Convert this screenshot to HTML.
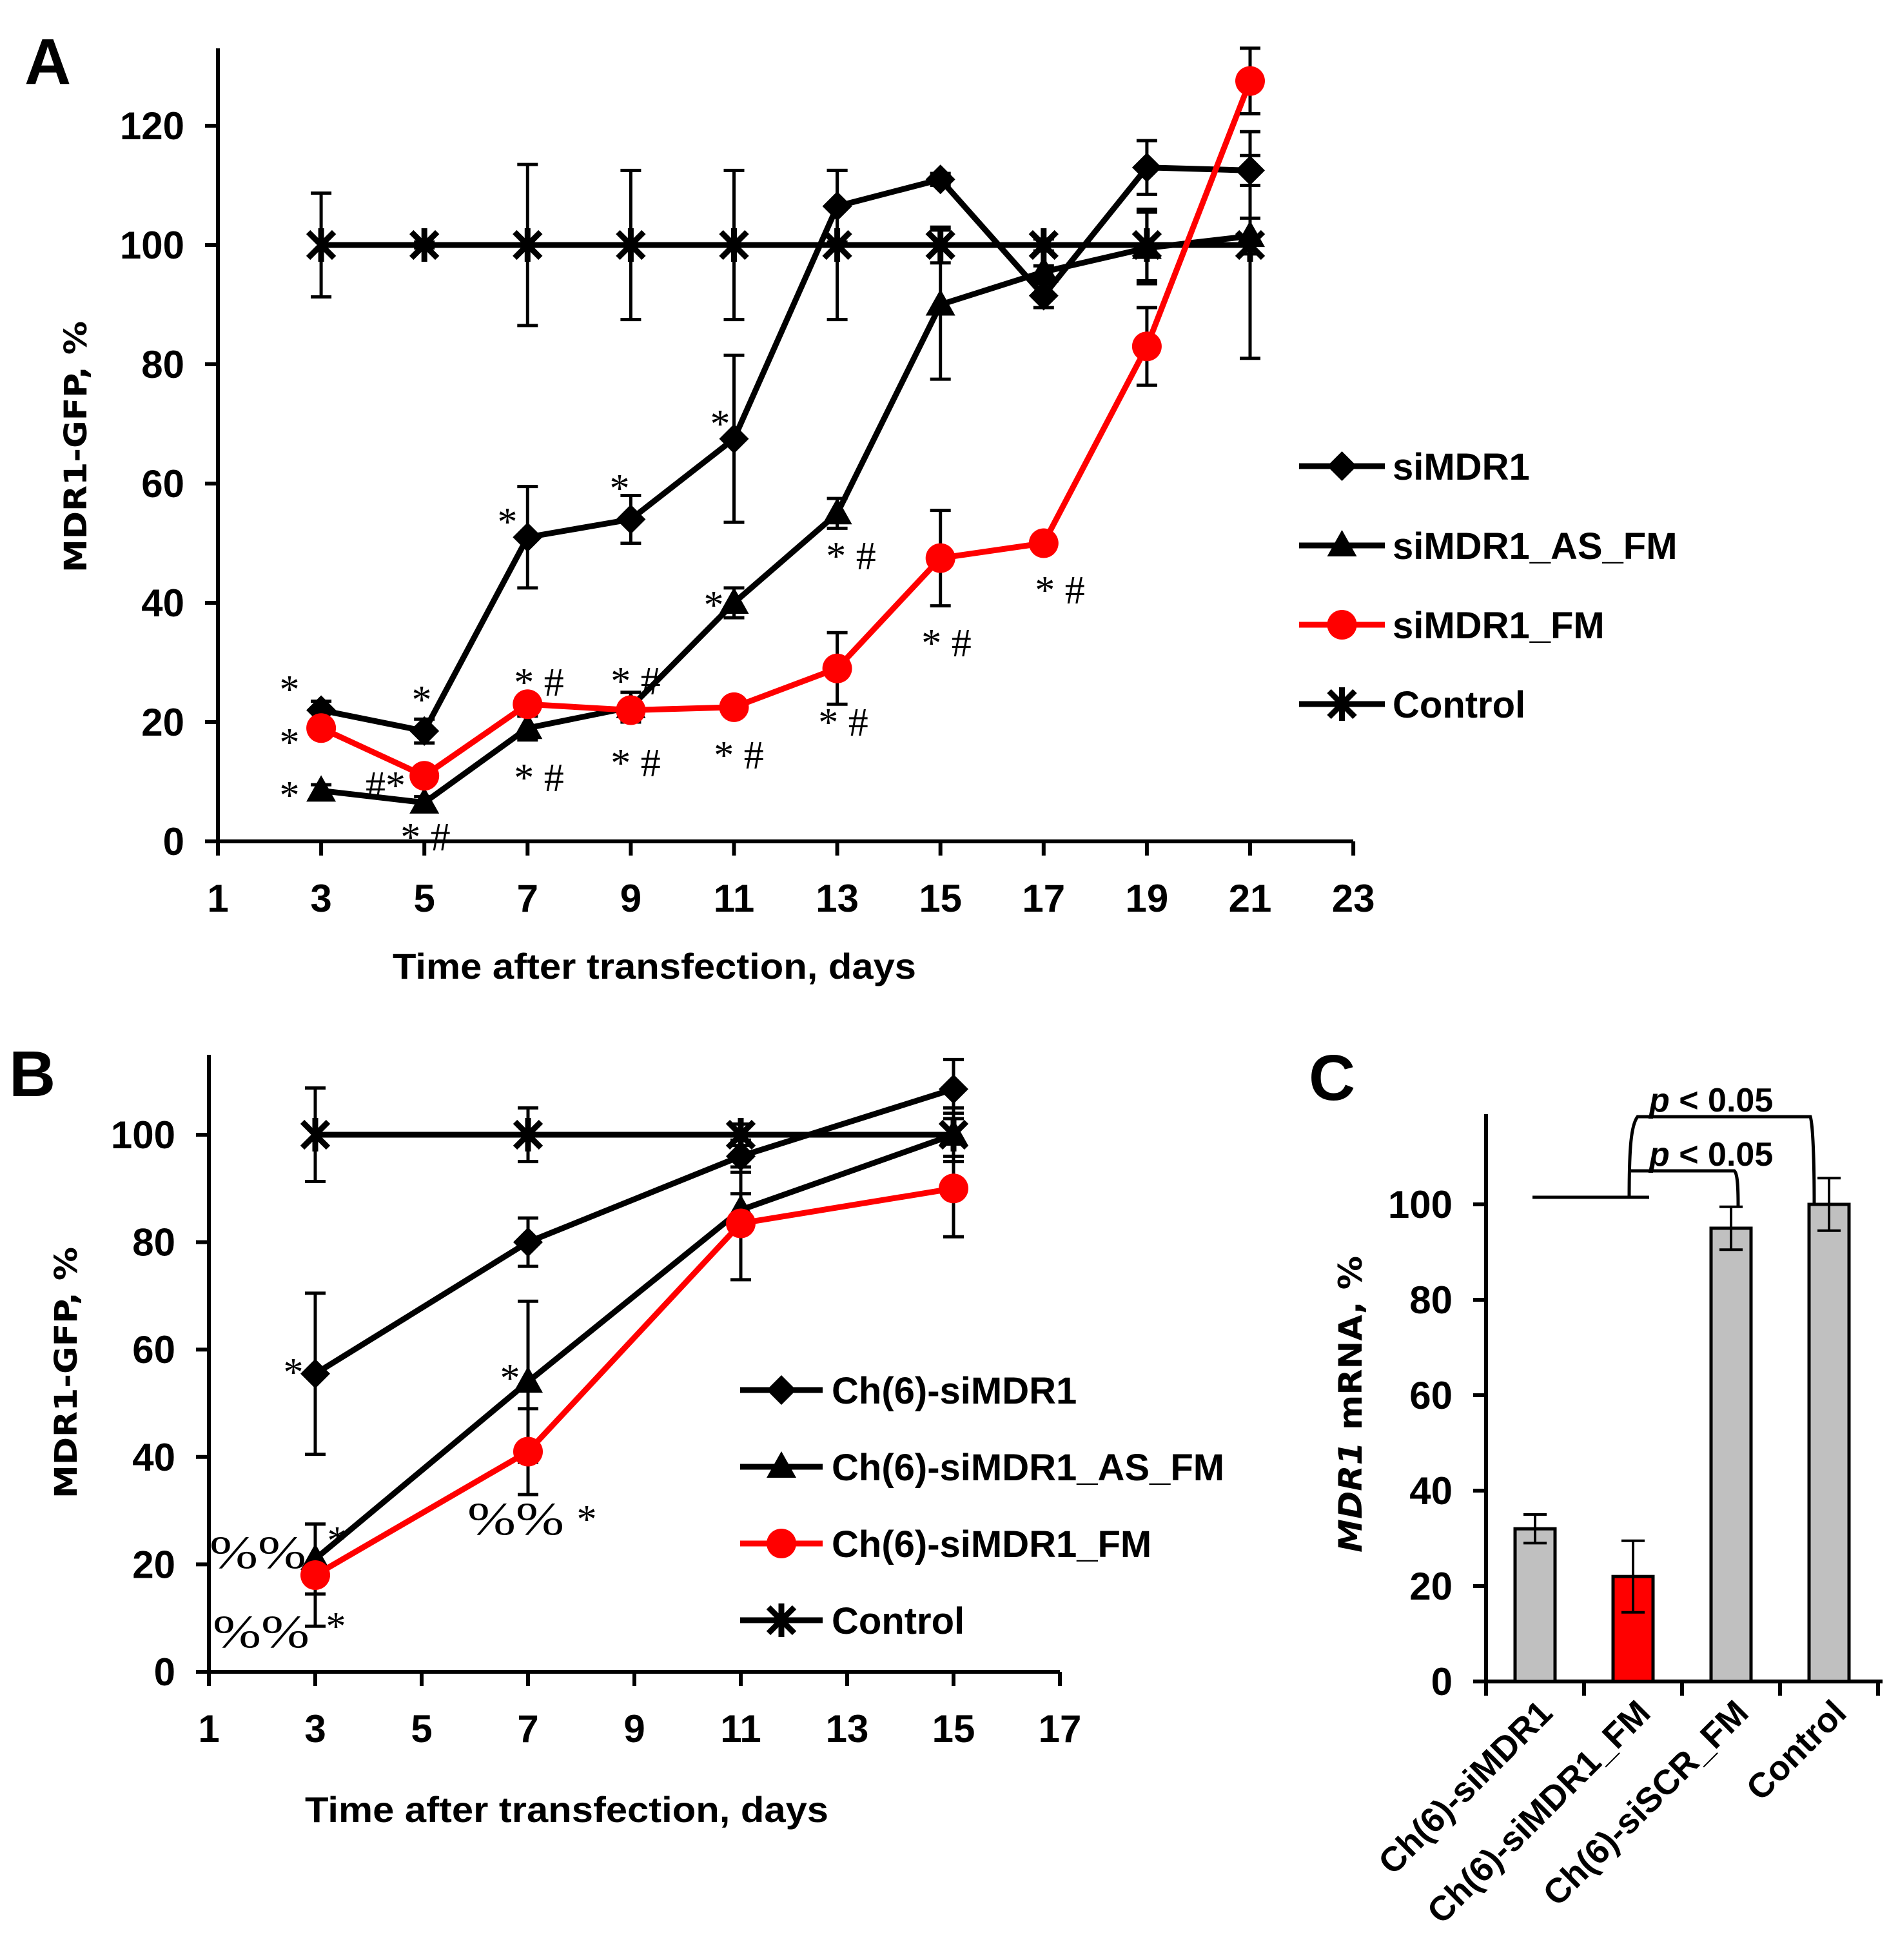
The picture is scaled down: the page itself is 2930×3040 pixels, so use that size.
<!DOCTYPE html>
<html><head><meta charset="utf-8"><style>
html,body{margin:0;padding:0;background:#fff;}
svg{display:block;}
text{font-family:"Liberation Sans",sans-serif;font-weight:bold;fill:#000;}
.ser{font-family:"Liberation Serif",serif;font-weight:normal;}
</style></head><body>
<svg id="fig" xmlns="http://www.w3.org/2000/svg" width="2930" height="3040" viewBox="0 0 2930 3040">
<rect width="2930" height="3040" fill="#fff"/>
<text x="38" y="130" font-size="100">A</text>
<text x="14" y="1700" font-size="100">B</text>
<text x="2030" y="1706" font-size="100">C</text>
<text x="1015" y="1518" font-size="56" text-anchor="middle" textLength="812" lengthAdjust="spacingAndGlyphs">Time after transfection, days</text>
<text transform="translate(134,693) rotate(-90)" font-size="48" text-anchor="middle" textLength="390" lengthAdjust="spacingAndGlyphs" style="font-family:'DejaVu Sans',sans-serif">MDR1-GFP, %</text>
<text x="879" y="2826" font-size="56" text-anchor="middle" textLength="812" lengthAdjust="spacingAndGlyphs">Time after transfection, days</text>
<text transform="translate(119,2129) rotate(-90)" font-size="48" text-anchor="middle" textLength="390" lengthAdjust="spacingAndGlyphs" style="font-family:'DejaVu Sans',sans-serif">MDR1-GFP, %</text>
<text transform="translate(2112,2178) rotate(-90)" font-size="50" text-anchor="middle" textLength="460" lengthAdjust="spacingAndGlyphs" style="font-family:'DejaVu Sans',sans-serif"><tspan font-style="italic">MDR1</tspan> mRNA, %</text>
<g id="ann" font-size="62">
<text class="ser" x="449" y="1090" text-anchor="middle">*</text>
<text class="ser" x="449" y="1172" text-anchor="middle">*</text>
<text class="ser" x="449" y="1254" text-anchor="middle">*</text>
<text class="ser" x="598" y="1239" text-anchor="middle">#*</text>
<text class="ser" x="654" y="1106" text-anchor="middle">*</text>
<text class="ser" x="660" y="1319" text-anchor="middle">* #</text>
<text class="ser" x="787" y="830" text-anchor="middle">*</text>
<text class="ser" x="836" y="1079" text-anchor="middle">* #</text>
<text class="ser" x="836" y="1227" text-anchor="middle">* #</text>
<text class="ser" x="961" y="778" text-anchor="middle">*</text>
<text class="ser" x="986" y="1077" text-anchor="middle">* #</text>
<text class="ser" x="986" y="1204" text-anchor="middle">* #</text>
<text class="ser" x="1117" y="678" text-anchor="middle">*</text>
<text class="ser" x="1107" y="959" text-anchor="middle">*</text>
<text class="ser" x="1146" y="1192" text-anchor="middle">* #</text>
<text class="ser" x="1320" y="883" text-anchor="middle">* #</text>
<text class="ser" x="1308" y="1141" text-anchor="middle">* #</text>
<text class="ser" x="1468" y="1018" text-anchor="middle">* #</text>
<text class="ser" x="1644" y="936" text-anchor="middle">* #</text>
<text class="ser" x="455" y="2149" text-anchor="middle">*</text>
<text class="ser" x="791" y="2158" text-anchor="middle">*</text>
<text class="ser" x="400" y="2432" text-anchor="middle" font-size="72" textLength="150" lengthAdjust="spacingAndGlyphs">%%</text>
<text class="ser" x="523" y="2410" text-anchor="middle">*</text>
<text class="ser" x="405" y="2555" text-anchor="middle" font-size="72" textLength="150" lengthAdjust="spacingAndGlyphs">%%</text>
<text class="ser" x="521" y="2543" text-anchor="middle">*</text>
<text class="ser" x="800" y="2380" text-anchor="middle" font-size="72" textLength="150" lengthAdjust="spacingAndGlyphs">%%</text>
<text class="ser" x="910" y="2377" text-anchor="middle">*</text>
</g>
<g fill="none" stroke="#000" stroke-width="5">
<path d="M2377 1857 H2558"/>
<path d="M2527 1857 C2527 1780 2530 1745 2540 1732 H2808 C2812 1745 2814 1800 2814 1868"/>
<path d="M2530 1816 H2690 C2695 1820 2696 1840 2696 1870"/>
</g>
<text x="2558" y="1724" font-size="52"><tspan font-style="italic">p</tspan> &lt; 0.05</text>
<text x="2558" y="1808" font-size="52"><tspan font-style="italic">p</tspan> &lt; 0.05</text>
</svg>
<script>
// ---------- Panel A data ----------
const daysA = [3,5,7,9,11,13,15,17,19,21];
const aSiMDR1 = [22,18.5,51,54,67.5,106.5,111,91.5,113,112.5];
const aSiMDR1Err = [1.5,2,8.5,4,14,6,1,2,4.5,2.5];
const aAsFm = [8.5,6.5,19,22.5,40,55,90,95.5,99.5,101.5];
const aAsFmErr = [1,1,2,2.5,2.5,2.5,12.5,1,6,3];
const aFm = [19,11,23,22,22.5,29,47.5,50,83,127.5];
const aFmErr = [1,1,1,1,1,6,8,1,6.5,5.5];
const aCtrl = [100,100,100,100,100,100,100,100,100,100];
const aCtrlErr = [8.7,0.5,13.5,12.5,12.5,12.5,3,1,6,19];
const aXTicks = [1,3,5,7,9,11,13,15,17,19,21,23];
const aYTicks = [0,20,40,60,80,100,120];
// ---------- Panel B data ----------
const daysB = [3,7,11,15];
const bSiMDR1 = [55.5,80,96,108.5];
const bSiMDR1Err = [15,4.5,3,5.5];
const bAsFm = [21,54,86,100];
const bAsFmErr = [6.5,15,3,4];
const bFm = [18,41,83.5,90];
const bFmErr = [9.5,8,10.5,9];
const bCtrl = [100,100,100,100];
const bCtrlErr = [8.7,5,2,5];
const bXTicks = [1,3,5,7,9,11,13,15,17];
const bYTicks = [0,20,40,60,80,100];
// ---------- Panel C data ----------
const cCats = ["Ch(6)-siMDR1","Ch(6)-siMDR1_FM","Ch(6)-siSCR_FM","Control"];
const cVals = [32,22,95,100];
const cErrs = [3,7.5,4.5,5.5];
const cColors = ["#c0c0c0","#ff0000","#c0c0c0","#c0c0c0"];
const cYTicks = [0,20,40,60,80,100];

const NS = "http://www.w3.org/2000/svg";
const svg = document.getElementById('fig');
function mk(tag, attrs, parent){
  const e = document.createElementNS(NS, tag);
  for (const k in attrs) e.setAttribute(k, attrs[k]);
  (parent||svg).appendChild(e);
  return e;
}
const xA = d => 338 + (d-1)*80.05;
const yA = v => 1305 - v*9.25;
const xB = d => 324 + (d-1)*82.5;
const yB = v => 2593 - v*8.33;
const yC = v => 2608 - v*7.4;
const xC = i => 2305 + (i+0.5)*152;

function marker(type, cx, cy, color, g){
  let el;
  if (type==='diamond'){
    el = mk('path',{d:`M${cx} ${cy-23} L${cx+23} ${cy} L${cx} ${cy+23} L${cx-23} ${cy} Z`,fill:color},g);
  } else if (type==='triangle'){
    el = mk('path',{d:`M${cx} ${cy-24} L${cx+23} ${cy+17} L${cx-23} ${cy+17} Z`,fill:color},g);
  } else if (type==='circle'){
    el = mk('circle',{cx:cx,cy:cy,r:23,fill:color},g);
  } else {
    el = mk('path',{d:`M${cx-20} ${cy-20} L${cx+20} ${cy+20} M${cx-20} ${cy+20} L${cx+20} ${cy-20} M${cx} ${cy-26} V${cy+26}`,stroke:color,'stroke-width':9,fill:'none'},g);
  }
  
  
  return el;
}

function axes(x0, xEnd, y0, yTop, xs, ys, fx, fy, prefix, labY){
  const g = mk('g',{});
  
  
  const ya = mk('line',{x1:x0,y1:yTop,x2:x0,y2:y0+20,stroke:'#000','stroke-width':6},g);
  
  
  const xa = mk('line',{x1:x0-20,y1:y0,x2:xEnd,y2:y0,stroke:'#000','stroke-width':6},g);
  
  
  ys.forEach(v=>{
    const t = mk('line',{x1:x0-20,y1:fy(v),x2:x0,y2:fy(v),stroke:'#000','stroke-width':6},g);
    
    
    const l = mk('text',{x:x0-52,y:fy(v)+21,'font-size':60,'text-anchor':'end'},g);
    l.textContent = v;
    
    
  });
  if (xs){
    xs.forEach(d=>{
      const t = mk('line',{x1:fx(d),y1:y0,x2:fx(d),y2:y0+22,stroke:'#000','stroke-width':6},g);
      
      
      const l = mk('text',{x:fx(d),y:labY,'font-size':60,'text-anchor':'middle'},g);
      l.textContent = d;
      
      
    });
  }
}

function series(name, days, vals, errs, fx, fy, color, type){
  const g = mk('g',{});
  
  
  const pts = days.map((d,i)=>fx(d)+','+fy(vals[i])).join(' ');
  const ln = mk('polyline',{points:pts,fill:'none',stroke:color,'stroke-width':9,'stroke-linejoin':'round'},g);
  
  
  days.forEach((d,i)=>{
    const x = fx(d), yt = fy(vals[i]+errs[i]), yb = fy(vals[i]-errs[i]);
    const e = mk('path',{d:`M${x} ${yt} V${yb} M${x-16} ${yt} H${x+16} M${x-16} ${yb} H${x+16}`,stroke:'#000','stroke-width':5,fill:'none'},g);
    
    
  });
  days.forEach((d,i)=>{ marker(type, fx(d), fy(vals[i]), color, g); });
}

function legend(items, lx1, lx2, tx, rows, prefix, fsz){
  items.forEach((it,i)=>{
    const g = mk('g',{});
    
    
    const l = mk('line',{x1:lx1,y1:rows[i],x2:lx2,y2:rows[i],stroke:it[1],'stroke-width':9},g);
    
    
    marker(it[2], (lx1+lx2)/2, rows[i], it[1], g);
    const t = mk('text',{x:tx,y:rows[i]+21,'font-size':fsz},g);
    t.textContent = it[0];
    
    
  });
}

// Panel A
axes(338, 2099, 1305, 75, aXTicks, aYTicks, xA, yA, 'panel-a', 1414);
series('a-control', daysA, aCtrl, aCtrlErr, xA, yA, '#000', 'star');
series('a-simdr1', daysA, aSiMDR1, aSiMDR1Err, xA, yA, '#000', 'diamond');
series('a-simdr1-as-fm', daysA, aAsFm, aAsFmErr, xA, yA, '#000', 'triangle');
series('a-simdr1-fm', daysA, aFm, aFmErr, xA, yA, '#ff0000', 'circle');
legend([['siMDR1','#000','diamond'],['siMDR1_AS_FM','#000','triangle'],['siMDR1_FM','#ff0000','circle'],['Control','#000','star']],
  2015, 2148, 2160, [723,846,969,1092], 'panel-a', 58);

// Panel B
axes(324, 1644, 2593, 1636, bXTicks, bYTicks, xB, yB, 'panel-b', 2702);
series('b-control', daysB, bCtrl, bCtrlErr, xB, yB, '#000', 'star');
series('b-simdr1', daysB, bSiMDR1, bSiMDR1Err, xB, yB, '#000', 'diamond');
series('b-simdr1-as-fm', daysB, bAsFm, bAsFmErr, xB, yB, '#000', 'triangle');
series('b-simdr1-fm', daysB, bFm, bFmErr, xB, yB, '#ff0000', 'circle');
legend([['Ch(6)-siMDR1','#000','diamond'],['Ch(6)-siMDR1_AS_FM','#000','triangle'],['Ch(6)-siMDR1_FM','#ff0000','circle'],['Control','#000','star']],
  1148, 1276, 1290, [2156,2275,2394,2513], 'panel-b', 58);

// Panel C
axes(2305, 2920, 2608, 1728, null, cYTicks, null, yC, 'panel-c', 0);
[0,1,2,3,4].forEach(i=>{
  const x = 2305 + i*152;
  const t = mk('line',{x1:x,y1:2608,x2:x,y2:2630,stroke:'#000','stroke-width':6});
  
  
});
cVals.forEach((v,i)=>{
  const x = xC(i);
  const b = mk('rect',{x:x-31,y:yC(v),width:62,height:yC(0)-yC(v),fill:cColors[i],stroke:'#000','stroke-width':5});
  
  
  const yt = yC(v+cErrs[i]), yb = yC(v-cErrs[i]);
  const e = mk('path',{d:`M${x} ${yt} V${yb} M${x-18} ${yt} H${x+18} M${x-18} ${yb} H${x+18}`,stroke:'#000','stroke-width':4,fill:'none'});
  
  
  const l = mk('text',{transform:`translate(${x+30},2660) rotate(-45)`,'font-size':54,'text-anchor':'end'});
  l.textContent = cCats[i];
  
  
});
</script>
</body></html>
